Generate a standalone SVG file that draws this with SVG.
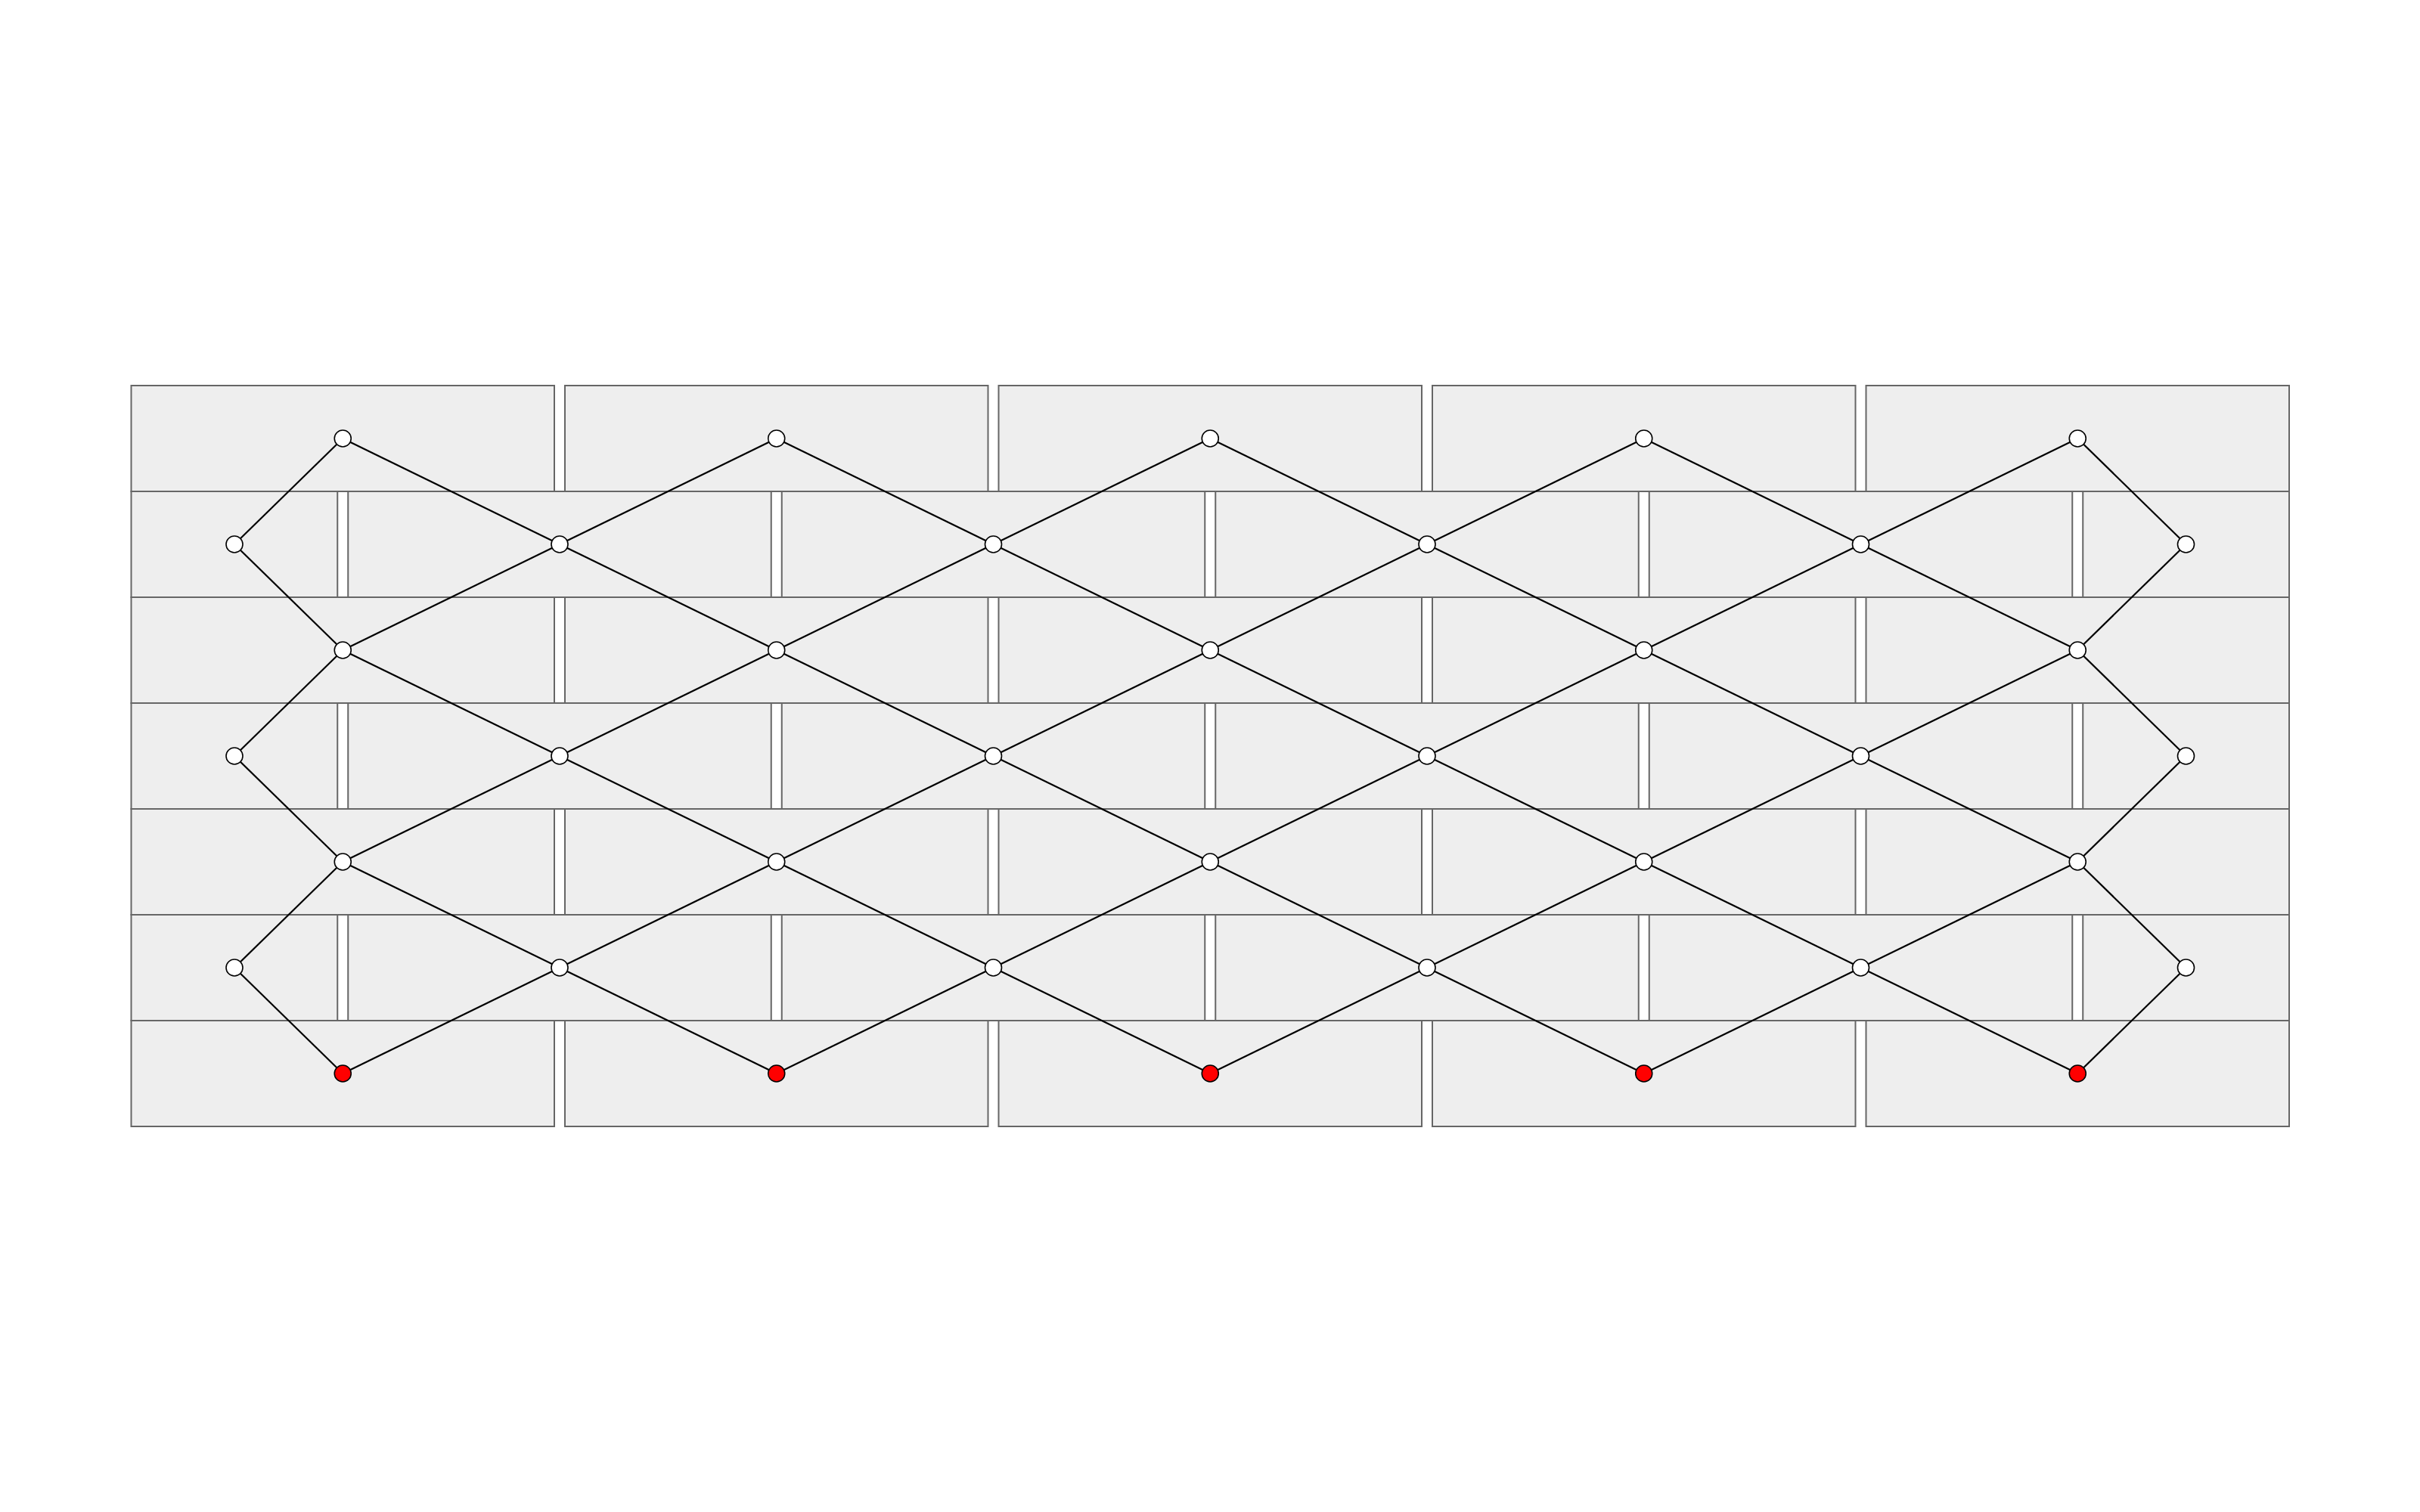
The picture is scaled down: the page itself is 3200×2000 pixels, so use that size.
<svg xmlns="http://www.w3.org/2000/svg" width="3200" height="2000" viewBox="0 0 3200 2000">
<style>
.brick{fill:#eeeeee;stroke:#666666;stroke-width:2}
.edge{stroke:#000000;stroke-width:2.2;fill:none}
.node{fill:#ffffff;stroke:#000000;stroke-width:1.6}
.red{fill:#ff0000;stroke:#000000;stroke-width:1.6}
</style>
<rect width="3200" height="2000" fill="#ffffff"/>
<g id="bricks">
<g id="row0">
<rect class="brick" x="173.5" y="510" width="559.5" height="140"/>
<rect class="brick" x="747" y="510" width="559.5" height="140"/>
<rect class="brick" x="1320.5" y="510" width="559.5" height="140"/>
<rect class="brick" x="1894" y="510" width="559.5" height="140"/>
<rect class="brick" x="2467.5" y="510" width="559.5" height="140"/>
</g>
<g id="row1">
<rect class="brick" x="173.5" y="650" width="272.75" height="140"/>
<rect class="brick" x="460.25" y="650" width="559.5" height="140"/>
<rect class="brick" x="1033.75" y="650" width="559.5" height="140"/>
<rect class="brick" x="1607.25" y="650" width="559.5" height="140"/>
<rect class="brick" x="2180.75" y="650" width="559.5" height="140"/>
<rect class="brick" x="2754.25" y="650" width="272.75" height="140"/>
</g>
<g id="row2">
<rect class="brick" x="173.5" y="790" width="559.5" height="140"/>
<rect class="brick" x="747" y="790" width="559.5" height="140"/>
<rect class="brick" x="1320.5" y="790" width="559.5" height="140"/>
<rect class="brick" x="1894" y="790" width="559.5" height="140"/>
<rect class="brick" x="2467.5" y="790" width="559.5" height="140"/>
</g>
<g id="row3">
<rect class="brick" x="173.5" y="930" width="272.75" height="140"/>
<rect class="brick" x="460.25" y="930" width="559.5" height="140"/>
<rect class="brick" x="1033.75" y="930" width="559.5" height="140"/>
<rect class="brick" x="1607.25" y="930" width="559.5" height="140"/>
<rect class="brick" x="2180.75" y="930" width="559.5" height="140"/>
<rect class="brick" x="2754.25" y="930" width="272.75" height="140"/>
</g>
<g id="row4">
<rect class="brick" x="173.5" y="1070" width="559.5" height="140"/>
<rect class="brick" x="747" y="1070" width="559.5" height="140"/>
<rect class="brick" x="1320.5" y="1070" width="559.5" height="140"/>
<rect class="brick" x="1894" y="1070" width="559.5" height="140"/>
<rect class="brick" x="2467.5" y="1070" width="559.5" height="140"/>
</g>
<g id="row5">
<rect class="brick" x="173.5" y="1210" width="272.75" height="140"/>
<rect class="brick" x="460.25" y="1210" width="559.5" height="140"/>
<rect class="brick" x="1033.75" y="1210" width="559.5" height="140"/>
<rect class="brick" x="1607.25" y="1210" width="559.5" height="140"/>
<rect class="brick" x="2180.75" y="1210" width="559.5" height="140"/>
<rect class="brick" x="2754.25" y="1210" width="272.75" height="140"/>
</g>
<g id="row6">
<rect class="brick" x="173.5" y="1350" width="559.5" height="140"/>
<rect class="brick" x="747" y="1350" width="559.5" height="140"/>
<rect class="brick" x="1320.5" y="1350" width="559.5" height="140"/>
<rect class="brick" x="1894" y="1350" width="559.5" height="140"/>
<rect class="brick" x="2467.5" y="1350" width="559.5" height="140"/>
</g>
</g>
<g id="connectors">
<line class="edge" x1="453.25" y1="580" x2="310" y2="720"/>
<line class="edge" x1="453.25" y1="580" x2="740" y2="720"/>
<line class="edge" x1="1026.75" y1="580" x2="740" y2="720"/>
<line class="edge" x1="1026.75" y1="580" x2="1313.5" y2="720"/>
<line class="edge" x1="1600.25" y1="580" x2="1313.5" y2="720"/>
<line class="edge" x1="1600.25" y1="580" x2="1887" y2="720"/>
<line class="edge" x1="2173.75" y1="580" x2="1887" y2="720"/>
<line class="edge" x1="2173.75" y1="580" x2="2460.5" y2="720"/>
<line class="edge" x1="2747.25" y1="580" x2="2460.5" y2="720"/>
<line class="edge" x1="2747.25" y1="580" x2="2890.5" y2="720"/>

<line class="edge" x1="453.25" y1="860" x2="310" y2="720"/>
<line class="edge" x1="453.25" y1="860" x2="740" y2="720"/>
<line class="edge" x1="1026.75" y1="860" x2="740" y2="720"/>
<line class="edge" x1="1026.75" y1="860" x2="1313.5" y2="720"/>
<line class="edge" x1="1600.25" y1="860" x2="1313.5" y2="720"/>
<line class="edge" x1="1600.25" y1="860" x2="1887" y2="720"/>
<line class="edge" x1="2173.75" y1="860" x2="1887" y2="720"/>
<line class="edge" x1="2173.75" y1="860" x2="2460.5" y2="720"/>
<line class="edge" x1="2747.25" y1="860" x2="2460.5" y2="720"/>
<line class="edge" x1="2747.25" y1="860" x2="2890.5" y2="720"/>

<line class="edge" x1="453.25" y1="860" x2="310" y2="1000"/>
<line class="edge" x1="453.25" y1="860" x2="740" y2="1000"/>
<line class="edge" x1="1026.75" y1="860" x2="740" y2="1000"/>
<line class="edge" x1="1026.75" y1="860" x2="1313.5" y2="1000"/>
<line class="edge" x1="1600.25" y1="860" x2="1313.5" y2="1000"/>
<line class="edge" x1="1600.25" y1="860" x2="1887" y2="1000"/>
<line class="edge" x1="2173.75" y1="860" x2="1887" y2="1000"/>
<line class="edge" x1="2173.75" y1="860" x2="2460.5" y2="1000"/>
<line class="edge" x1="2747.25" y1="860" x2="2460.5" y2="1000"/>
<line class="edge" x1="2747.25" y1="860" x2="2890.5" y2="1000"/>

<line class="edge" x1="453.25" y1="1140" x2="310" y2="1000"/>
<line class="edge" x1="453.25" y1="1140" x2="740" y2="1000"/>
<line class="edge" x1="1026.75" y1="1140" x2="740" y2="1000"/>
<line class="edge" x1="1026.75" y1="1140" x2="1313.5" y2="1000"/>
<line class="edge" x1="1600.25" y1="1140" x2="1313.5" y2="1000"/>
<line class="edge" x1="1600.25" y1="1140" x2="1887" y2="1000"/>
<line class="edge" x1="2173.75" y1="1140" x2="1887" y2="1000"/>
<line class="edge" x1="2173.75" y1="1140" x2="2460.5" y2="1000"/>
<line class="edge" x1="2747.25" y1="1140" x2="2460.5" y2="1000"/>
<line class="edge" x1="2747.25" y1="1140" x2="2890.5" y2="1000"/>

<line class="edge" x1="453.25" y1="1140" x2="310" y2="1280"/>
<line class="edge" x1="453.25" y1="1140" x2="740" y2="1280"/>
<line class="edge" x1="1026.75" y1="1140" x2="740" y2="1280"/>
<line class="edge" x1="1026.75" y1="1140" x2="1313.5" y2="1280"/>
<line class="edge" x1="1600.25" y1="1140" x2="1313.5" y2="1280"/>
<line class="edge" x1="1600.25" y1="1140" x2="1887" y2="1280"/>
<line class="edge" x1="2173.75" y1="1140" x2="1887" y2="1280"/>
<line class="edge" x1="2173.75" y1="1140" x2="2460.5" y2="1280"/>
<line class="edge" x1="2747.25" y1="1140" x2="2460.5" y2="1280"/>
<line class="edge" x1="2747.25" y1="1140" x2="2890.5" y2="1280"/>

<line class="edge" x1="453.25" y1="1420" x2="310" y2="1280"/>
<line class="edge" x1="453.25" y1="1420" x2="740" y2="1280"/>
<line class="edge" x1="1026.75" y1="1420" x2="740" y2="1280"/>
<line class="edge" x1="1026.75" y1="1420" x2="1313.5" y2="1280"/>
<line class="edge" x1="1600.25" y1="1420" x2="1313.5" y2="1280"/>
<line class="edge" x1="1600.25" y1="1420" x2="1887" y2="1280"/>
<line class="edge" x1="2173.75" y1="1420" x2="1887" y2="1280"/>
<line class="edge" x1="2173.75" y1="1420" x2="2460.5" y2="1280"/>
<line class="edge" x1="2747.25" y1="1420" x2="2460.5" y2="1280"/>
<line class="edge" x1="2747.25" y1="1420" x2="2890.5" y2="1280"/>
</g>
<g id="nodes">
<g id="n0_0"><circle class="node" cx="453.25" cy="580" r="11"/></g>
<g id="n0_1"><circle class="node" cx="1026.75" cy="580" r="11"/></g>
<g id="n0_2"><circle class="node" cx="1600.25" cy="580" r="11"/></g>
<g id="n0_3"><circle class="node" cx="2173.75" cy="580" r="11"/></g>
<g id="n0_4"><circle class="node" cx="2747.25" cy="580" r="11"/></g>

<g id="n1_L"><circle class="node" cx="310" cy="720" r="11"/></g>
<g id="n1_0"><circle class="node" cx="740" cy="720" r="11"/></g>
<g id="n1_1"><circle class="node" cx="1313.5" cy="720" r="11"/></g>
<g id="n1_2"><circle class="node" cx="1887" cy="720" r="11"/></g>
<g id="n1_3"><circle class="node" cx="2460.5" cy="720" r="11"/></g>
<g id="n1_R"><circle class="node" cx="2890.5" cy="720" r="11"/></g>

<g id="n2_0"><circle class="node" cx="453.25" cy="860" r="11"/></g>
<g id="n2_1"><circle class="node" cx="1026.75" cy="860" r="11"/></g>
<g id="n2_2"><circle class="node" cx="1600.25" cy="860" r="11"/></g>
<g id="n2_3"><circle class="node" cx="2173.75" cy="860" r="11"/></g>
<g id="n2_4"><circle class="node" cx="2747.25" cy="860" r="11"/></g>

<g id="n3_L"><circle class="node" cx="310" cy="1000" r="11"/></g>
<g id="n3_0"><circle class="node" cx="740" cy="1000" r="11"/></g>
<g id="n3_1"><circle class="node" cx="1313.5" cy="1000" r="11"/></g>
<g id="n3_2"><circle class="node" cx="1887" cy="1000" r="11"/></g>
<g id="n3_3"><circle class="node" cx="2460.5" cy="1000" r="11"/></g>
<g id="n3_R"><circle class="node" cx="2890.5" cy="1000" r="11"/></g>

<g id="n4_0"><circle class="node" cx="453.25" cy="1140" r="11"/></g>
<g id="n4_1"><circle class="node" cx="1026.75" cy="1140" r="11"/></g>
<g id="n4_2"><circle class="node" cx="1600.25" cy="1140" r="11"/></g>
<g id="n4_3"><circle class="node" cx="2173.75" cy="1140" r="11"/></g>
<g id="n4_4"><circle class="node" cx="2747.25" cy="1140" r="11"/></g>

<g id="n5_L"><circle class="node" cx="310" cy="1280" r="11"/></g>
<g id="n5_0"><circle class="node" cx="740" cy="1280" r="11"/></g>
<g id="n5_1"><circle class="node" cx="1313.5" cy="1280" r="11"/></g>
<g id="n5_2"><circle class="node" cx="1887" cy="1280" r="11"/></g>
<g id="n5_3"><circle class="node" cx="2460.5" cy="1280" r="11"/></g>
<g id="n5_R"><circle class="node" cx="2890.5" cy="1280" r="11"/></g>

<g id="n6_0"><circle class="red" cx="453.25" cy="1420" r="11"/></g>
<g id="n6_1"><circle class="red" cx="1026.75" cy="1420" r="11"/></g>
<g id="n6_2"><circle class="red" cx="1600.25" cy="1420" r="11"/></g>
<g id="n6_3"><circle class="red" cx="2173.75" cy="1420" r="11"/></g>
<g id="n6_4"><circle class="red" cx="2747.25" cy="1420" r="11"/></g>
</g>
</svg>
